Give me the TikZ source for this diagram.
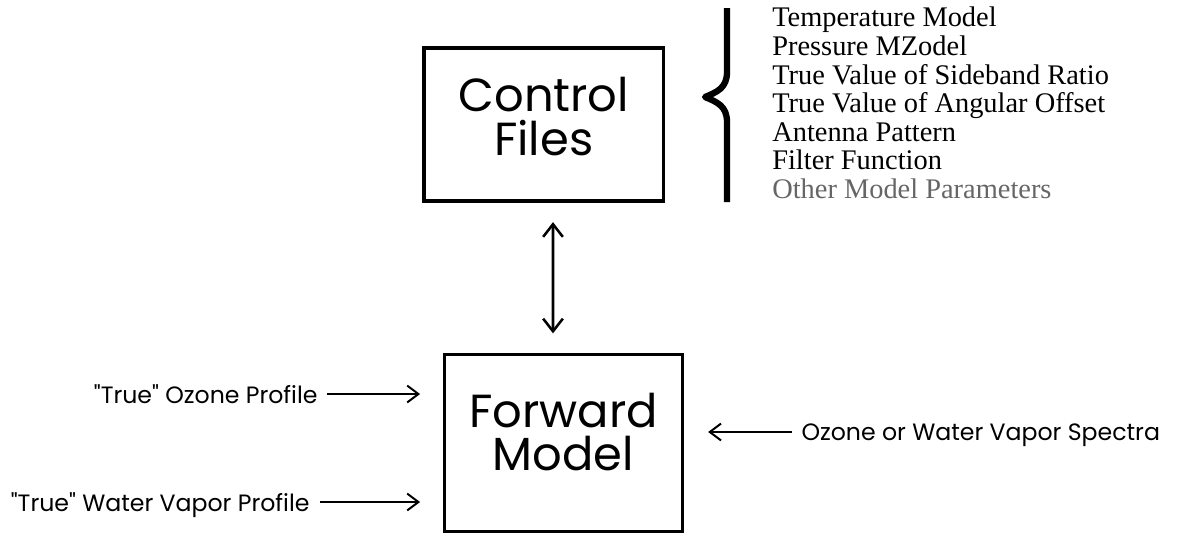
\documentclass[tikz,border=0pt]{standalone}
\usepackage{fontspec}
\setmainfont{Liberation Serif}
\newfontfamily\gothic{Poppins}
\usetikzlibrary{arrows.meta}
\begin{document}
\begin{tikzpicture}[x=0.025cm, y=-0.025cm]
	\tikzstyle{block} = [draw, line width=2.6pt, inner sep=0pt, outer sep=0pt]
	\tikzstyle{blocktext} = [font=\gothic\fontsize{33}{31}\selectfont, align=center, inner sep=0pt]
	\tikzstyle{input} = [font=\gothic\fontsize{16.8}{19}\selectfont, text depth=0pt, inner sep=3pt]
	\tikzstyle{paramlist} = [font=\fontsize{20.2}{20.3}\selectfont, align=left, inner sep=0pt]
	\tikzstyle{feed} = [line width=1.4pt, -{Straight Barb[length=8pt, width=12pt]}]
	\tikzstyle{link} = [line width=1.8pt, {Straight Barb[length=9pt, width=14pt]}-{Straight Barb[length=9pt, width=14pt]}]

	\useasboundingbox (0,0) rectangle (1187,534);

	% Define nodes
	\node[block, minimum width=5.99cm, minimum height=3.83cm] (ctrl) at (543.75,124.5) {};
	\node[blocktext] (ctrltxt) at ([yshift=0.2cm]ctrl.center) {Control\\Files};
	\node[block, minimum width=5.95cm, minimum height=4.43cm] (fwd) at (563.5,443) {};
	\node[blocktext] (fwdtxt) at ([yshift=0.275cm]fwd.center) {Forward\\Model};

	\node[input, anchor=east] (ozone) at (322,394) {"True" Ozone Profile};
	\node[input, anchor=east] (water) at (314,502) {"True" Water Vapor Profile};
	\node[input, anchor=west] (spectra) at (797,432) {Ozone or Water Vapor Spectra};

	\node[paramlist, anchor=north west] (params) at (772,7) {Temperature Model\\Pressure MZodel\\True Value of Sideband Ratio\\True Value of Angular Offset\\Antenna Pattern\\Filter Function\\\textcolor{black!60}{Other Model Parameters}};

	% Brace
	\draw[line width=4.5pt, line join=round] (727,8) -- (727,72) .. controls (727,88) and (717,92) .. (705,97) .. controls (717,102) and (727,106) .. (727,122) -- (727,202);

	% Draw edges
	\draw[link, shorten <=0.525cm, shorten >=0.525cm] ([xshift=0.231cm]ctrl.south) -- ([xshift=-0.2625cm]fwd.north);
	\draw[feed, shorten <=0.125cm, shorten >=0.61cm] (ozone.east) -- (ozone.east -| fwd.west);
	\draw[feed, shorten <=0.15cm, shorten >=0.61cm] (water.east) -- (water.east -| fwd.west);
	\draw[feed, shorten <=0.125cm, shorten >=0.64cm] (spectra.west) -- (spectra.west -| fwd.east);

\end{tikzpicture}
\end{document}
